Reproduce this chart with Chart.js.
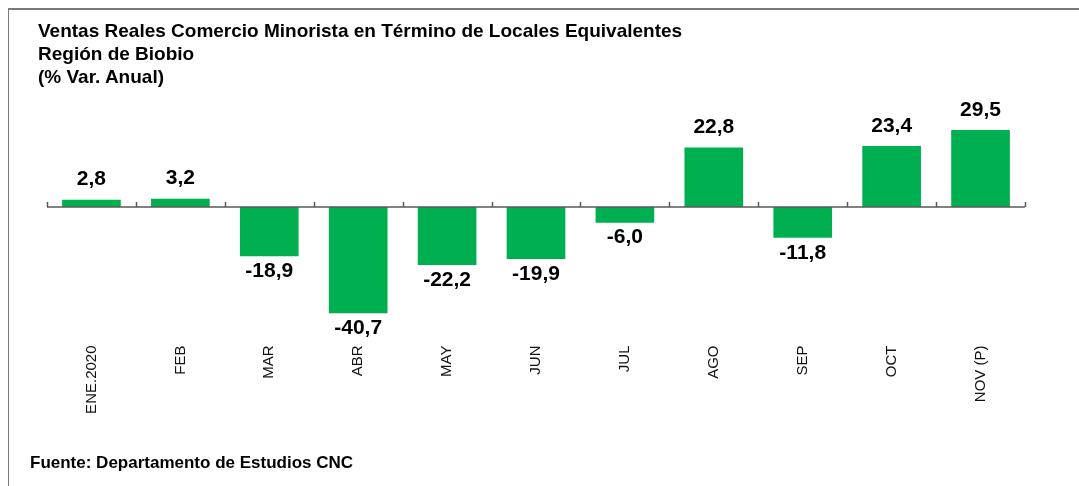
<!DOCTYPE html>
<html>
<head>
<meta charset="utf-8">
<script src="https://cdn.jsdelivr.net/npm/chart.js@4"></script>
<style>
    body { margin: 0; background: #fff; font-family: "Liberation Sans", Arial, sans-serif; }
    #wrap { position: relative; width: 1079px; height: 486px; overflow: hidden; }
    #frame { position: absolute; left: 8px; top: 8px; right: 0; bottom: 0;
             border-top: 2px solid #7a7a7a; border-left: 1px solid #7a7a7a; }
    #titulo { position: absolute; left: 38px; top: 19px; font-weight: bold; font-size: 19px;
              line-height: 23px; color: #000; }
    #fuente { position: absolute; left: 30px; top: 453px; font-weight: bold; font-size: 17px; color: #000; }
    canvas { position: absolute; left: 0; top: 0; }
</style>
</head>
<body>
<div id="wrap">
    <div id="frame"></div>
    <canvas id="grafico" width="1079" height="486"></canvas>
    <div id="titulo">Ventas Reales Comercio Minorista en Término de Locales Equivalentes<br>Región de Biobio<br>(% Var. Anual)</div>
    <div id="fuente">Fuente: Departamento de Estudios CNC</div>
</div>
<script>
// meses y variación anual (%)
const meses = ['ENE.2020', 'FEB', 'MAR', 'ABR', 'MAY', 'JUN', 'JUL', 'AGO', 'SEP', 'OCT', 'NOV (P)'];
const variacion = [2.8, 3.2, -18.9, -40.7, -22.2, -19.9, -6.0, 22.8, -11.8, 23.4, 29.5];

const VERDE = '#00B050';

// formato con coma decimal
const fmt = v => v.toFixed(1).replace('.', ',');

// línea del cero con marcas + etiquetas de valor
const ejeCero = {
    id: 'ejeCero',
    afterDatasetsDraw(chart) {
        const { ctx, scales: { x, y } } = chart;
        const y0 = y.getPixelForValue(0);
        const paso = (x.right - x.left) / meses.length;
        ctx.save();
        ctx.strokeStyle = '#595959';
        ctx.lineWidth = 1.5;
        ctx.beginPath();
        ctx.moveTo(x.left, y0);
        ctx.lineTo(x.right, y0);
        for (let i = 0; i <= meses.length; i++) {
            const px = Math.round(x.left + paso * i) + 0.5;
            ctx.moveTo(px, y0);
            ctx.lineTo(px, y0 - 5);
        }
        ctx.stroke();

        ctx.fillStyle = '#000';
        ctx.font = 'bold 21px "Liberation Sans", Arial, sans-serif';
        ctx.textAlign = 'center';
        ctx.textBaseline = 'middle';
        chart.getDatasetMeta(0).data.forEach((bar, i) => {
            const v = variacion[i];
            const ty = v >= 0 ? bar.y - 20 : bar.y + 15;
            ctx.fillText(fmt(v), bar.x, ty);
        });
        ctx.restore();
    }
};

new Chart(document.getElementById('grafico'), {
    type: 'bar',
    data: {
        labels: meses,
        datasets: [{
            data: variacion,
            backgroundColor: VERDE,
            borderWidth: 0,
            categoryPercentage: 1,
            barPercentage: 0.66
        }]
    },
    options: {
        responsive: false,
        animation: false,
        devicePixelRatio: 1,
        layout: { padding: { left: 47, right: 54, top: 102.6, bottom: 38.5 } },
        plugins: {
            legend: { display: false },
            tooltip: { enabled: false }
        },
        scales: {
            x: {
                grid: { display: false },
                border: { display: false },
                afterFit: s => { s.height = 110; },
                ticks: {
                    minRotation: 90,
                    maxRotation: 90,
                    padding: 0,
                    color: '#111',
                    font: { family: '"Liberation Sans", Arial, sans-serif', size: 15 }
                }
            },
            y: {
                display: false,
                min: -50,
                max: 40
            }
        }
    },
    plugins: [ejeCero]
});
</script>
</body>
</html>
